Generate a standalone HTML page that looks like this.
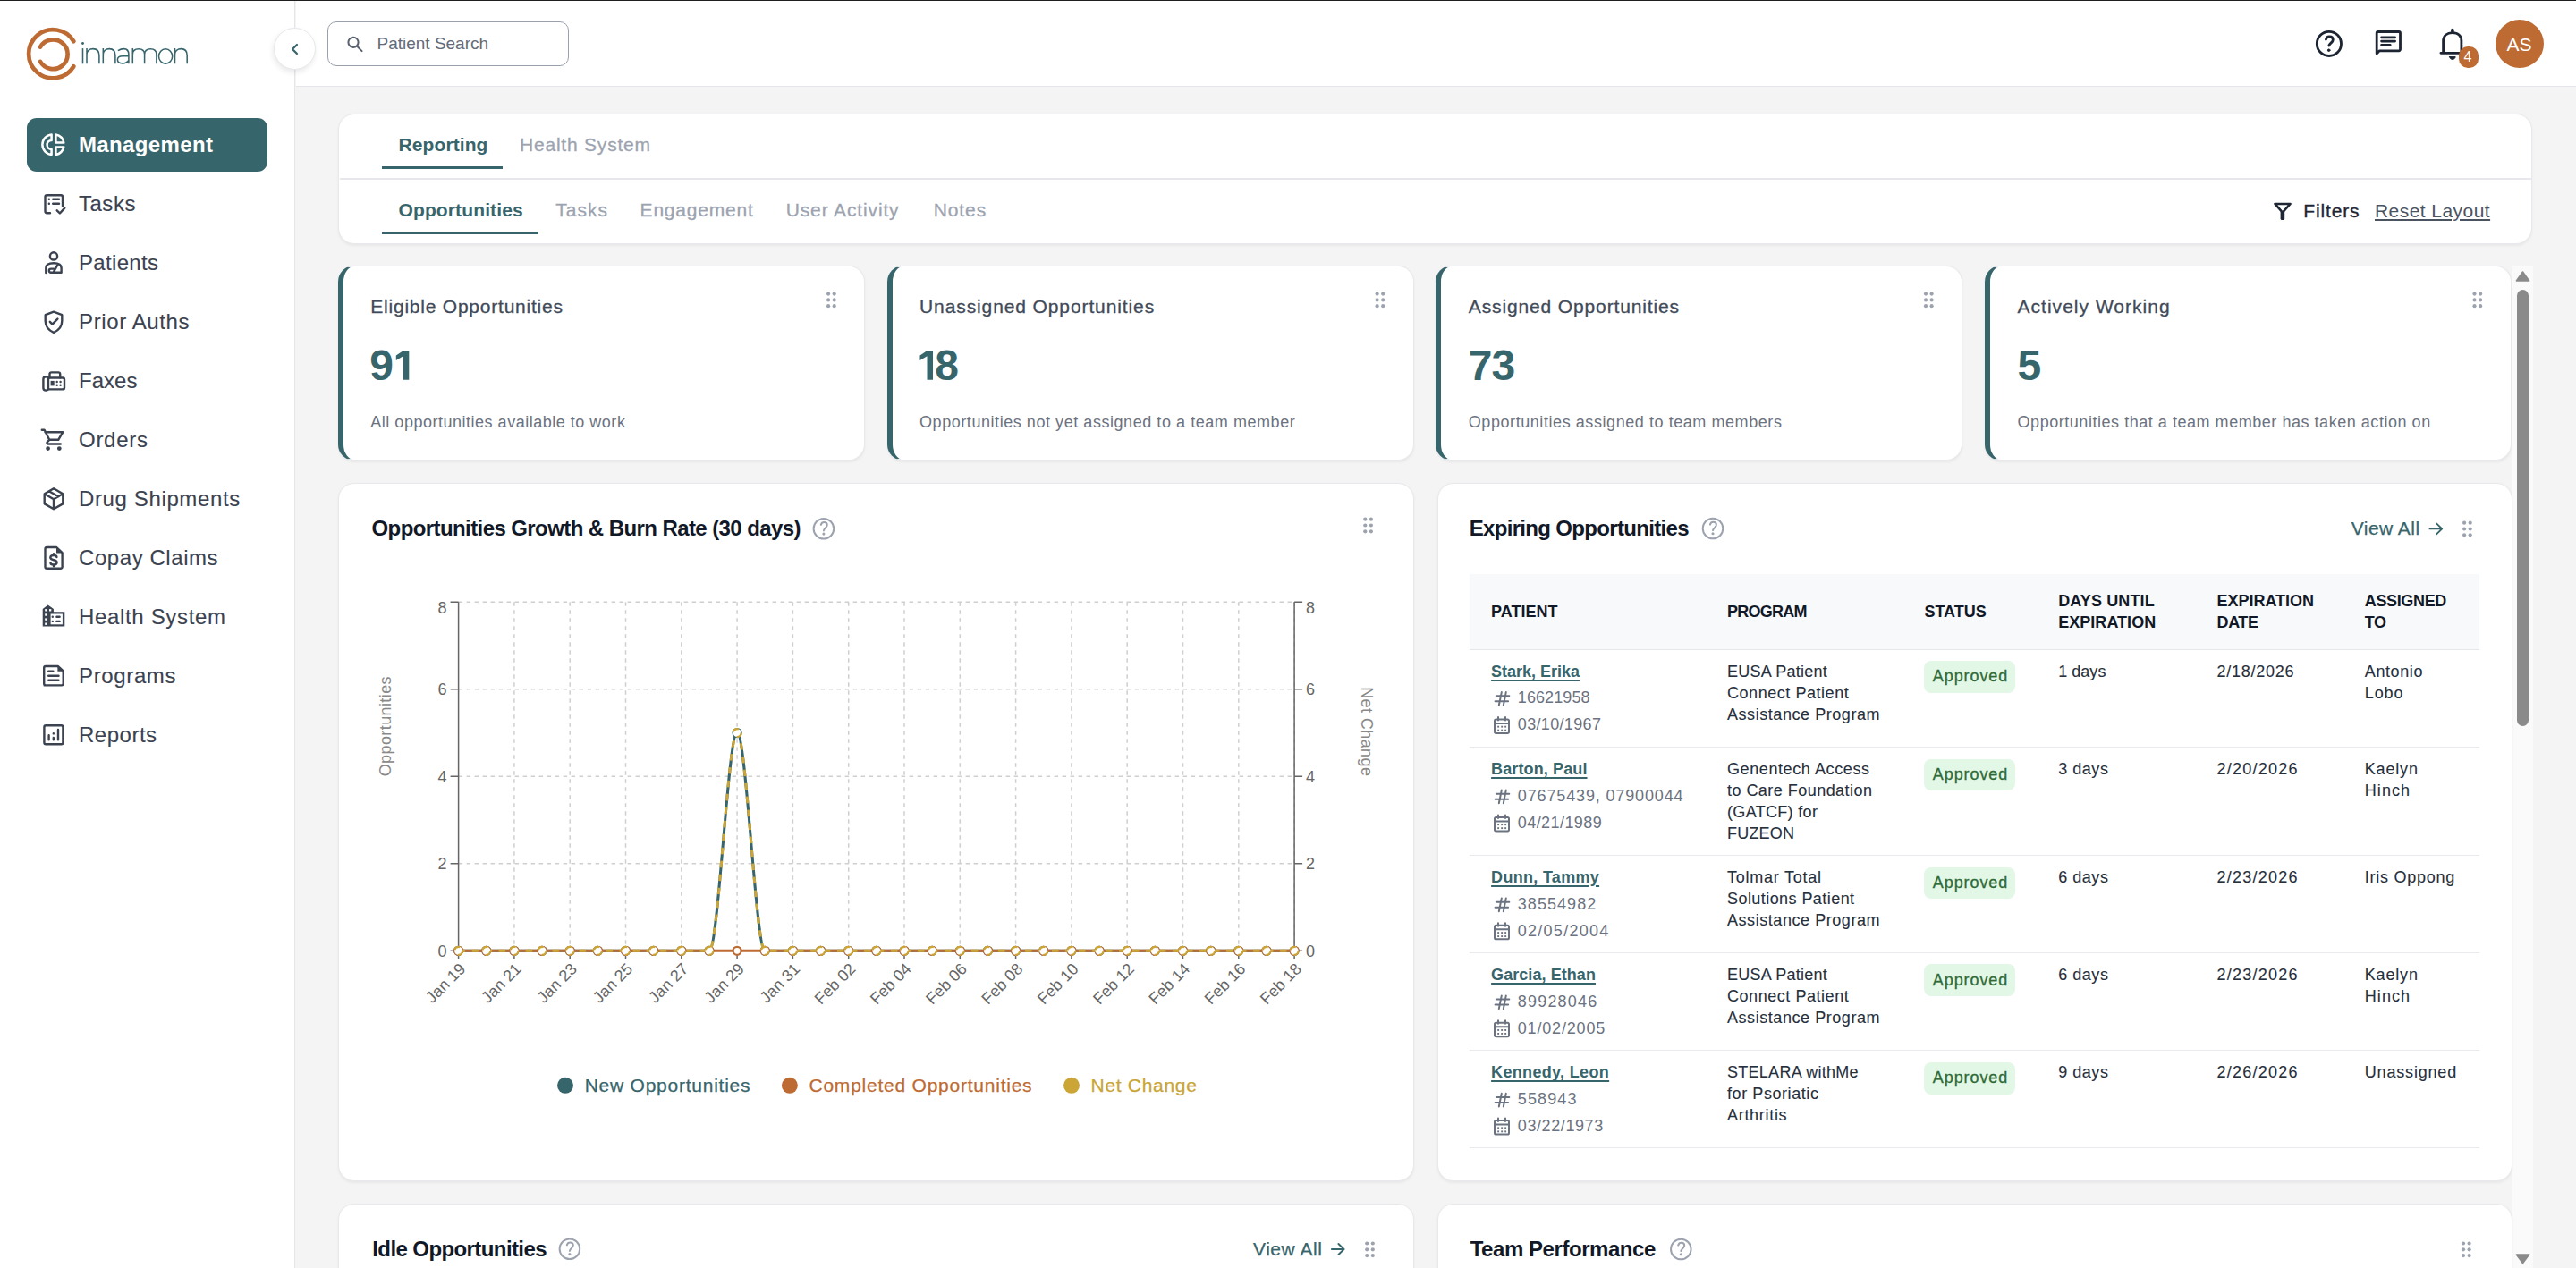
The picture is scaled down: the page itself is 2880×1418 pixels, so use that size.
<!DOCTYPE html>
<html><head><meta charset="utf-8"><style>
html,body{margin:0;padding:0;}
body{width:2880px;height:1418px;overflow:hidden;position:relative;background:#f4f4f4;font-family:"Liberation Sans",sans-serif;}
.t{position:absolute;white-space:nowrap;line-height:1;}
.nav{-webkit-text-stroke:0.12px #3b4250;}
.card{position:absolute;box-sizing:border-box;background:#fff;border:1.5px solid #e8e9ec;border-radius:18px;box-shadow:0 1.5px 3px rgba(0,0,0,0.05);}
.scard{border-left:6px solid #37656c;}
.med{-webkit-text-stroke:0.3px #9ca3af;}
.med2{-webkit-text-stroke:0.35px #1f2633;}
.med3{-webkit-text-stroke:0.3px #414a58;}
.mt{-webkit-text-stroke:0.25px #37656c;}
.mo{-webkit-text-stroke:0.25px #bd6b33;}
.mg{-webkit-text-stroke:0.25px #c9a535;}
.tb{-webkit-text-stroke:0.1px #262f3c;}
.ap{-webkit-text-stroke:0.3px #2e6a36;}

</style></head><body>
<div style="position:absolute;left:0;top:0;width:2880px;height:1px;background:#1f1f1f"></div>
<div style="position:absolute;left:0;top:1px;width:329px;height:1417px;background:#fff;border-right:1.5px solid #e4e6ea"></div>
<div style="position:absolute;left:330.5px;top:1px;width:2549.5px;height:94.5px;background:#fff;border-bottom:1.5px solid #e4e6ea"></div>
<svg style="position:absolute;left:0;top:0;width:260px;height:110px" viewBox="0 0 260 110">
<path d="M 82.4 46.3 A 27.1 27.1 0 1 0 82.4 74.3" stroke="#bd6b33" stroke-width="4.7" fill="none" stroke-linecap="round"/>
<path d="M 45 52.6 A 16.4 16.4 0 1 1 45 68.9" stroke="#bd6b33" stroke-width="4.7" fill="none" stroke-linecap="round"/>
<g stroke="#37656c" stroke-width="1.55" fill="none" stroke-linecap="butt">
<circle cx="92.5" cy="48.5" r="1.45" fill="#37656c" stroke="none"/>
<path d="M92.5 54.1 V71.3"/>
<path d="M97 71.3 V54.1 M97 61 C97 57 100 54.6 104 54.6 C108.5 54.6 110.9 57.5 110.9 62 V71.3"/>
<path d="M115.3 71.3 V54.1 M115.3 61 C115.3 57 118.3 54.6 122.3 54.6 C126.8 54.6 128.9 57.5 128.9 62 V71.3"/>
<path d="M131.9 56.6 C134 55.2 136 54.6 138.5 54.6 C142 54.6 143.9 57 143.9 61 V71.3 M143.9 62.8 H137 C133.5 62.8 131.4 64.5 131.4 66.8 C131.4 69.2 133.5 70.9 137 70.9 C140 70.9 142.5 69.5 143.9 67.5"/>
<path d="M148.3 71.3 V54.1 M148.3 61 C148.3 57 150.8 54.7 155 54.7 C159 54.7 161.6 57 161.6 61 V71.3 M161.6 61 C161.6 57 164.2 54.7 168.3 54.7 C172.5 54.7 174.9 57 174.9 61 V71.3"/>
<ellipse cx="185.1" cy="63" rx="7.6" ry="8.2"/>
<path d="M195.5 71.3 V54.1 M195.5 61 C195.5 57 198.5 54.6 202.5 54.6 C207 54.6 209.2 57.5 209.2 62 V71.3"/>
</g></svg>
<div style="position:absolute;left:305.5px;top:31px;width:47px;height:47px;border-radius:50%;background:#fff;border:1px solid #e6e8ec;box-shadow:-1px 3px 6px rgba(0,0,0,0.09);box-sizing:border-box"></div>
<svg style="position:absolute;left:320.5px;top:46.3px;width:18px;height:18px" viewBox="0 0 18 18" fill="none" stroke="#37656c" stroke-width="2.2" stroke-linecap="round" stroke-linejoin="round" ><path d="M11 4 L6 9 L11 14"/></svg>
<div style="position:absolute;left:366px;top:24px;width:270px;height:50px;border:1.5px solid #9aa1ad;border-radius:10px;box-sizing:border-box;background:#fff"></div>
<svg style="position:absolute;left:386px;top:39px;width:21px;height:21px" viewBox="0 0 21 21" fill="none" stroke="#5a616e" stroke-width="2" stroke-linecap="round" stroke-linejoin="round" ><circle cx="9" cy="8.3" r="5.6"/><path d="M13.2 12.7 L18.6 18.1"/></svg>
<div class="t " style="left:421.5px;top:39.42px;font-size:19px;color:#646b78;font-weight:400;letter-spacing:-0.005px;">Patient Search</div>
<svg style="position:absolute;left:2560px;top:20px;width:220px;height:60px" viewBox="2560 20 220 60" fill="none" stroke="#1d2532" stroke-width="2.8" stroke-linecap="round" stroke-linejoin="round">
<circle cx="2603.9" cy="48.9" r="13.6"/>
<path d="M2600.4 44.2 C2600.9 42 2602.5 41 2604.3 41 C2606.8 41 2608.3 42.6 2608.3 44.5 C2608.3 47 2605.6 47.8 2604.2 50.2 L2603.8 51"/>
<circle cx="2603.7" cy="56.2" r="1.3" fill="#1d2532" stroke-width="1"/>
<path d="M2657.2 58.5 V37 A1.5 1.5 0 0 1 2658.7 35.5 H2682 A1.5 1.5 0 0 1 2683.5 37 V55.3 A1.5 1.5 0 0 1 2682 56.8 H2660.3 L2657.2 59.9 Z"/>
<path d="M2662.6 41.9 H2677.6 M2662.6 46.1 H2677.6 M2662.6 50.4 H2672.2"/>
<path d="M2741.9 33.6 V35.8" stroke-width="3.6"/><path d="M2731.6 59 V46 C2731.6 40 2736 36.6 2741.9 36.6 C2747.8 36.6 2751.9 40 2751.9 46 V59 M2728.9 59.3 H2754"/>
<path d="M2738.6 63.6 H2745.2 C2745 65.2 2743.7 66.4 2741.9 66.4 C2740.1 66.4 2738.8 65.2 2738.6 63.6 Z" fill="#1d2532" stroke-width="1"/>
</svg>
<div style="position:absolute;left:2749.3px;top:52.2px;width:21.3px;height:23.7px;border-radius:10px;background:#bd6b33"></div>
<div class="t " style="left:2754.5px;top:56.46px;font-size:16px;color:#fff;font-weight:400;letter-spacing:0.000px;">4</div>
<div style="position:absolute;left:2790px;top:22px;width:54px;height:54px;border-radius:50%;background:#bd6b33"></div>
<div class="t " style="left:2802.5px;top:38.72px;font-size:21px;color:#fff;font-weight:400;letter-spacing:0.000px;">AS</div>
<div style="position:absolute;left:30px;top:132px;width:269px;height:60px;border-radius:11px;background:#37656c"></div>
<svg style="position:absolute;left:0;top:0;width:330px;height:900px" viewBox="0 0 330 900" fill="none" stroke-linecap="round" stroke-linejoin="round">
<g stroke="#fff" stroke-width="2.5">
<path d="M57.6 150.5 A11.3 11.3 0 0 0 57.6 173 V167 A5 5 0 0 1 57.6 157 Z"/>
<path d="M62.4 150.5 A11.3 11.3 0 0 1 71.3 159.6 H62.4 Z"/>
<path d="M62.4 173 A11.3 11.3 0 0 0 71.3 164.4 H62.4 Z"/>
</g>
<g stroke="#3b4250" stroke-width="2.4">
<path d="M56 238.2 H52.4 A1.9 1.9 0 0 1 50.5 236.3 V220.1 A1.9 1.9 0 0 1 52.4 218.2 H68.1 A1.9 1.9 0 0 1 70 220.1 V230.5"/>
<path d="M54.8 222.8 h0.1 M54.8 227.7 h0.1 M59.2 222.8 H66 M59.2 227.7 H66"/>
<path d="M63.7 235.3 L66.9 238.5 L72.3 232.6"/>
<circle cx="60" cy="286.4" r="4.1"/>
<path d="M51.3 305 V299.8 C51.3 295.8 54.5 294.3 60 294.3 C65.5 294.3 68.6 295.8 68.6 299.8 V304.8 H57 C55.3 304.8 54.8 303.8 54.8 302.6 C54.8 301.2 55.6 300.6 57 300.6 H60.5 M59.6 304.6 L64.3 296.3"/>
<path d="M60 348.6 L69.3 352.2 V359 C69.3 365 65.6 369.4 60 371.8 C54.4 369.4 50.7 365 50.7 359 V352.2 Z"/>
<path d="M55.8 359.8 L58.5 362.6 L64.4 356.6"/>
<rect x="48.4" y="421.3" width="5.6" height="15.3" rx="2.8"/>
<path d="M54 422.5 H70 A2 2 0 0 1 72 424.5 V433.4 A2 2 0 0 1 70 435.4 H54.2"/>
<path d="M55.5 422.2 V418.2 A1.8 1.8 0 0 1 57.3 416.4 H65.4 A1.8 1.8 0 0 1 67.2 418.2 V422.2"/>
<path d="M46.8 480.8 H49.6 L55.2 491.8 H65.2 L70.3 483.2 H50.5 M55.2 491.8 L52.8 494.3 C52 495.3 52.5 496.5 53.6 496.5 H67.8"/>
<circle cx="53.6" cy="501.6" r="1.2"/><circle cx="66.3" cy="501.6" r="1.2"/>
<path d="M60 546.2 L70.3 552.3 V563.4 L60 569.3 L49.7 563.4 V552.3 Z M49.7 552.3 L60 558.3 L70.3 552.3 M60 558.3 V569.3 M54.8 549.2 L65.2 555.3"/>
<path d="M63.2 612 H52.3 A1.8 1.8 0 0 0 50.5 613.8 V634 A1.8 1.8 0 0 0 52.3 635.8 H67.8 A1.8 1.8 0 0 0 69.6 634 V618.2 Z"/>
<path d="M63.4 623 C63.4 621.5 62 621 60 621 C57.5 621 56.3 622 56.3 623.6 C56.3 625.2 57.8 625.8 60 626.2 C62.2 626.6 63.6 627.2 63.6 628.9 C63.6 630.6 62.2 631.4 60 631.4 C58 631.4 56.5 630.8 56.5 629.4 M60 619.3 V621 M60 631.4 V633.2"/>
<path d="M49.7 766.4 H68.9 A1.8 1.8 0 0 0 70.7 764.6 V750.4 L64.7 745 H51 A1.8 1.8 0 0 0 49.2 746.8 V764.6 A1.8 1.8 0 0 0 51 766.4 Z"/>
<path d="M54.2 750.6 H59.4 M54.2 755.7 H65.5 M54.2 760.7 H65.5"/>
<rect x="49.4" y="811.3" width="21" height="21" rx="1.8"/>
<path d="M54.6 822.2 V827.2 M59.8 825 V827.2 M59.8 820.3 v0.1 M65 816 V827.2"/>
</g>
<g fill="#3b4250" stroke="none">
<path d="M63 611.6 L70 618.4 L63 618.4 Z"/>
<path d="M64.4 744.8 L71 750.8 L64.4 750.8 Z"/>
<rect x="56.6" y="425.9" width="4.1" height="5.5"/>
<circle cx="63.7" cy="427" r="1.2"/><circle cx="67.6" cy="427" r="1.2"/><circle cx="63.7" cy="430.8" r="1.2"/><circle cx="67.6" cy="430.8" r="1.2"/>
<path d="M53.6 676.5 L59.9 681 V684.2 H72.3 V700.6 H47.7 V681 Z"/>
</g>
<g fill="#fff" stroke="none">
<rect x="50.2" y="681.1" width="2.3" height="2.4"/><rect x="55" y="681.1" width="2.3" height="2.4"/>
<rect x="50.2" y="686.3" width="2.3" height="2.4"/><rect x="50.2" y="691.4" width="2.3" height="2.4"/><rect x="50.2" y="696.5" width="2.3" height="2.4"/>
<rect x="56.6" y="686.5" width="13.3" height="11.8"/>
</g>
<g fill="#3b4250" stroke="none">
<circle cx="58.8" cy="689.8" r="1.2"/><circle cx="58.8" cy="694.9" r="1.2"/>
<rect x="62.2" y="688.6" width="5.6" height="2.4" rx="1.2"/><rect x="62.2" y="693.7" width="5.6" height="2.4" rx="1.2"/>
</g>
</svg>
<div class="t navb" style="left:88px;top:149.88px;font-size:24px;color:#fff;font-weight:700;letter-spacing:0.366px;">Management</div>
<div class="t nav" style="left:88px;top:215.98px;font-size:24px;color:#3b4250;font-weight:400;letter-spacing:0.513px;">Tasks</div>
<div class="t nav" style="left:88px;top:281.93px;font-size:24px;color:#3b4250;font-weight:400;letter-spacing:0.326px;">Patients</div>
<div class="t nav" style="left:88px;top:347.88px;font-size:24px;color:#3b4250;font-weight:400;letter-spacing:0.619px;">Prior Auths</div>
<div class="t nav" style="left:88px;top:413.83px;font-size:24px;color:#3b4250;font-weight:400;letter-spacing:0.011px;">Faxes</div>
<div class="t nav" style="left:88px;top:479.78px;font-size:24px;color:#3b4250;font-weight:400;letter-spacing:0.710px;">Orders</div>
<div class="t nav" style="left:88px;top:545.73px;font-size:24px;color:#3b4250;font-weight:400;letter-spacing:0.625px;">Drug Shipments</div>
<div class="t nav" style="left:88px;top:611.68px;font-size:24px;color:#3b4250;font-weight:400;letter-spacing:0.566px;">Copay Claims</div>
<div class="t nav" style="left:88px;top:677.63px;font-size:24px;color:#3b4250;font-weight:400;letter-spacing:0.661px;">Health System</div>
<div class="t nav" style="left:88px;top:743.58px;font-size:24px;color:#3b4250;font-weight:400;letter-spacing:0.639px;">Programs</div>
<div class="t nav" style="left:88px;top:809.53px;font-size:24px;color:#3b4250;font-weight:400;letter-spacing:0.511px;">Reports</div>
<div class="card" style="left:377.8px;top:127px;width:2453.7px;height:145.5px;"></div>
<div style="position:absolute;left:380px;top:199px;width:2450px;height:1.5px;background:#e7e8eb"></div>
<div class="t " style="left:445.5px;top:150.82px;font-size:21px;color:#37656c;font-weight:700;letter-spacing:0.097px;">Reporting</div>
<div class="t med" style="left:581px;top:150.82px;font-size:21px;color:#9ca3af;font-weight:400;letter-spacing:0.787px;">Health System</div>
<div style="position:absolute;left:427px;top:186px;width:135px;height:3px;background:#37656c"></div>
<div class="t " style="left:445.5px;top:223.62px;font-size:21px;color:#37656c;font-weight:700;letter-spacing:0.127px;">Opportunities</div>
<div class="t med" style="left:621.2px;top:223.62px;font-size:21px;color:#9ca3af;font-weight:400;letter-spacing:1.005px;">Tasks</div>
<div class="t med" style="left:715.6px;top:223.62px;font-size:21px;color:#9ca3af;font-weight:400;letter-spacing:0.794px;">Engagement</div>
<div class="t med" style="left:878.7px;top:223.62px;font-size:21px;color:#9ca3af;font-weight:400;letter-spacing:0.868px;">User Activity</div>
<div class="t med" style="left:1043.7px;top:223.62px;font-size:21px;color:#9ca3af;font-weight:400;letter-spacing:0.910px;">Notes</div>
<div style="position:absolute;left:427px;top:259px;width:175px;height:3px;background:#37656c"></div>
<svg style="position:absolute;left:2530px;top:215px;width:40px;height:40px" viewBox="2530 215 40 40"><path d="M2543.4 227.9 H2560.6 L2551.9 237.6 Z" fill="none" stroke="#1f2633" stroke-width="2.5" stroke-linejoin="round"/><rect x="2549.6" y="236" width="4.6" height="10" rx="1.6" fill="#1f2633"/></svg>
<div class="t med2" style="left:2575.3px;top:225.12px;font-size:21px;color:#1f2633;font-weight:400;letter-spacing:0.839px;">Filters</div>
<div class="t " style="left:2655px;top:225.12px;font-size:21px;color:#4b5361;font-weight:400;letter-spacing:0.445px;text-decoration:underline;text-underline-offset:2px;text-decoration-thickness:1.6px;">Reset Layout</div>
<div class="card scard" style="left:377.9px;top:297px;width:589px;height:217.5px;"></div>
<div class="t med3" style="left:414.29999999999995px;top:332.42px;font-size:21px;color:#414a58;font-weight:400;letter-spacing:0.774px;">Eligible Opportunities</div>
<div class="t " style="left:413.3px;top:385.27px;font-size:48px;color:#37656c;font-weight:700;letter-spacing:0.000px;">9</div>
<div class="t " style="left:414.29999999999995px;top:462.96px;font-size:18px;color:#6b7280;font-weight:400;letter-spacing:0.513px;">All opportunities available to work</div>
<div class="card scard" style="left:991.6px;top:297px;width:589px;height:217.5px;"></div>
<div class="t med3" style="left:1028.05px;top:332.42px;font-size:21px;color:#414a58;font-weight:400;letter-spacing:0.889px;">Unassigned Opportunities</div>
<div class="t " style="left:1045.2px;top:385.27px;font-size:48px;color:#37656c;font-weight:700;letter-spacing:0.000px;">8</div>
<div class="t " style="left:1028.05px;top:462.96px;font-size:18px;color:#6b7280;font-weight:400;letter-spacing:0.554px;">Opportunities not yet assigned to a team member</div>
<div class="card scard" style="left:1605.4px;top:297px;width:589px;height:217.5px;"></div>
<div class="t med3" style="left:1641.8000000000002px;top:332.42px;font-size:21px;color:#414a58;font-weight:400;letter-spacing:0.865px;">Assigned Opportunities</div>
<div class="t " style="left:1641.8000000000002px;top:385.27px;font-size:48px;color:#37656c;font-weight:700;letter-spacing:-0.895px;">73</div>
<div class="t " style="left:1641.8000000000002px;top:462.96px;font-size:18px;color:#6b7280;font-weight:400;letter-spacing:0.566px;">Opportunities assigned to team members</div>
<div class="card scard" style="left:2219.2px;top:297px;width:589px;height:217.5px;"></div>
<div class="t med3" style="left:2255.55px;top:332.42px;font-size:21px;color:#414a58;font-weight:400;letter-spacing:1.017px;">Actively Working</div>
<div class="t " style="left:2255.55px;top:385.27px;font-size:48px;color:#37656c;font-weight:700;letter-spacing:0.000px;">5</div>
<div class="t " style="left:2255.55px;top:462.96px;font-size:18px;color:#6b7280;font-weight:400;letter-spacing:0.537px;">Opportunities that a team member has taken action on</div>
<svg style="position:absolute;left:0;top:0;width:2880px;height:1418px;pointer-events:none"><polygon points="442.8,397.4 451.0,391.9 457.3,391.9 457.3,424.8 450.8,424.8 450.8,398.3 442.8,403.0" fill="#37656c"/><circle cx="926.1" cy="328.6" r="2.1" fill="#9ca3af"/><circle cx="932.7" cy="328.6" r="2.1" fill="#9ca3af"/><circle cx="926.1" cy="335.4" r="2.1" fill="#9ca3af"/><circle cx="932.7" cy="335.4" r="2.1" fill="#9ca3af"/><circle cx="926.1" cy="342.2" r="2.1" fill="#9ca3af"/><circle cx="932.7" cy="342.2" r="2.1" fill="#9ca3af"/><polygon points="1028.5,397.4 1036.7,391.9 1043.0,391.9 1043.0,424.8 1036.5,424.8 1036.5,398.3 1028.5,403.0" fill="#37656c"/><circle cx="1539.6" cy="328.6" r="2.1" fill="#9ca3af"/><circle cx="1546.2" cy="328.6" r="2.1" fill="#9ca3af"/><circle cx="1539.6" cy="335.4" r="2.1" fill="#9ca3af"/><circle cx="1546.2" cy="335.4" r="2.1" fill="#9ca3af"/><circle cx="1539.6" cy="342.2" r="2.1" fill="#9ca3af"/><circle cx="1546.2" cy="342.2" r="2.1" fill="#9ca3af"/><circle cx="2153.0" cy="328.6" r="2.1" fill="#9ca3af"/><circle cx="2159.6" cy="328.6" r="2.1" fill="#9ca3af"/><circle cx="2153.0" cy="335.4" r="2.1" fill="#9ca3af"/><circle cx="2159.6" cy="335.4" r="2.1" fill="#9ca3af"/><circle cx="2153.0" cy="342.2" r="2.1" fill="#9ca3af"/><circle cx="2159.6" cy="342.2" r="2.1" fill="#9ca3af"/><circle cx="2766.5" cy="328.6" r="2.1" fill="#9ca3af"/><circle cx="2773.1" cy="328.6" r="2.1" fill="#9ca3af"/><circle cx="2766.5" cy="335.4" r="2.1" fill="#9ca3af"/><circle cx="2773.1" cy="335.4" r="2.1" fill="#9ca3af"/><circle cx="2766.5" cy="342.2" r="2.1" fill="#9ca3af"/><circle cx="2773.1" cy="342.2" r="2.1" fill="#9ca3af"/></svg>
<div style="position:absolute;left:2809px;top:297px;width:23px;height:1121px;background:#fafafa"></div>
<div style="position:absolute;left:2814px;top:324px;width:13px;height:488px;border-radius:6.5px;background:#8a8a8a"></div>
<svg style="position:absolute;left:2809px;top:297px;width:23px;height:1121px" viewBox="0 0 23 1121"><path d="M11.5 7 L18.6 17 L4.4 17 Z" fill="#8a8a8a" stroke="#8a8a8a" stroke-width="1.6" stroke-linejoin="round"/><path d="M11.5 1115.5 L18.6 1106 L4.4 1106 Z" fill="#8a8a8a" stroke="#8a8a8a" stroke-width="1.6" stroke-linejoin="round"/></svg>
<div class="card" style="left:377.9px;top:540px;width:1203.6px;height:780.5px;"></div>
<div class="t " style="left:415.5px;top:578.78px;font-size:24px;color:#111827;font-weight:700;letter-spacing:-0.586px;">Opportunities Growth &amp; Burn Rate (30 days)</div>
<svg style="position:absolute;left:0;top:0;width:2880px;height:1418px;pointer-events:none"><circle cx="920.9" cy="591.3" r="11.3" fill="none" stroke="#9ca3af" stroke-width="2"/><path d="M917.8 586.9 C918.5 584.6999999999999 920.3 584.0999999999999 921.3 584.0999999999999 C923.5 584.0999999999999 924.8 585.5999999999999 924.8 587.3 C924.8 589.8 921.1 591.0999999999999 920.9 593.4" fill="none" stroke="#9ca3af" stroke-width="2" stroke-linecap="round"/><circle cx="920.9" cy="597.0999999999999" r="1.55" fill="#9ca3af"/><circle cx="1526.3" cy="580.7" r="2.1" fill="#9ca3af"/><circle cx="1532.9" cy="580.7" r="2.1" fill="#9ca3af"/><circle cx="1526.3" cy="587.5" r="2.1" fill="#9ca3af"/><circle cx="1532.9" cy="587.5" r="2.1" fill="#9ca3af"/><circle cx="1526.3" cy="594.3" r="2.1" fill="#9ca3af"/><circle cx="1532.9" cy="594.3" r="2.1" fill="#9ca3af"/><path d="M512.6 965.8 H1447.1 M512.6 868.3 H1447.1 M512.6 770.8 H1447.1 M512.6 673.3 H1447.1 M574.9 673.3 V1063.3 M637.2 673.3 V1063.3 M699.5 673.3 V1063.3 M761.8 673.3 V1063.3 M824.1 673.3 V1063.3 M886.4 673.3 V1063.3 M948.7 673.3 V1063.3 M1011.0 673.3 V1063.3 M1073.3 673.3 V1063.3 M1135.6 673.3 V1063.3 M1197.9 673.3 V1063.3 M1260.2 673.3 V1063.3 M1322.5 673.3 V1063.3 M1384.8 673.3 V1063.3 M1447.1 673.3 V1063.3" stroke="#cfcfcf" stroke-width="1.5" stroke-dasharray="4.5 4.5" fill="none"/><path d="M512.6 673.3 V1063.3 M1447.1 673.3 V1063.3 M503.6 1063.3 H512.6 M1447.1 1063.3 H1456.1 M503.6 965.8 H512.6 M1447.1 965.8 H1456.1 M503.6 868.3 H512.6 M1447.1 868.3 H1456.1 M503.6 770.8 H512.6 M1447.1 770.8 H1456.1 M503.6 673.3 H512.6 M1447.1 673.3 H1456.1 M512.6 1063.3 V1072.3 M574.9 1063.3 V1072.3 M637.2 1063.3 V1072.3 M699.5 1063.3 V1072.3 M761.8 1063.3 V1072.3 M824.1 1063.3 V1072.3 M886.4 1063.3 V1072.3 M948.7 1063.3 V1072.3 M1011.0 1063.3 V1072.3 M1073.3 1063.3 V1072.3 M1135.6 1063.3 V1072.3 M1197.9 1063.3 V1072.3 M1260.2 1063.3 V1072.3 M1322.5 1063.3 V1072.3 M1384.8 1063.3 V1072.3 M1447.1 1063.3 V1072.3" stroke="#666" stroke-width="1.5" fill="none"/><g font-family="Liberation Sans" font-size="18" fill="#666" letter-spacing="0"><text x="499.6" y="1069.8" text-anchor="end">0</text><text x="1460.1" y="1069.8">0</text><text x="499.6" y="972.3" text-anchor="end">2</text><text x="1460.1" y="972.3">2</text><text x="499.6" y="874.8" text-anchor="end">4</text><text x="1460.1" y="874.8">4</text><text x="499.6" y="777.3" text-anchor="end">6</text><text x="1460.1" y="777.3">6</text><text x="499.6" y="686.3" text-anchor="end">8</text><text x="1460.1" y="686.3">8</text><text transform="translate(521.5,1084.6) rotate(-45)" text-anchor="end">Jan 19</text><text transform="translate(583.8,1084.6) rotate(-45)" text-anchor="end">Jan 21</text><text transform="translate(646.1,1084.6) rotate(-45)" text-anchor="end">Jan 23</text><text transform="translate(708.4,1084.6) rotate(-45)" text-anchor="end">Jan 25</text><text transform="translate(770.7,1084.6) rotate(-45)" text-anchor="end">Jan 27</text><text transform="translate(833.0,1084.6) rotate(-45)" text-anchor="end">Jan 29</text><text transform="translate(895.3,1084.6) rotate(-45)" text-anchor="end">Jan 31</text><text transform="translate(957.6,1084.6) rotate(-45)" text-anchor="end">Feb 02</text><text transform="translate(1019.9,1084.6) rotate(-45)" text-anchor="end">Feb 04</text><text transform="translate(1082.2,1084.6) rotate(-45)" text-anchor="end">Feb 06</text><text transform="translate(1144.5,1084.6) rotate(-45)" text-anchor="end">Feb 08</text><text transform="translate(1206.8,1084.6) rotate(-45)" text-anchor="end">Feb 10</text><text transform="translate(1269.1,1084.6) rotate(-45)" text-anchor="end">Feb 12</text><text transform="translate(1331.4,1084.6) rotate(-45)" text-anchor="end">Feb 14</text><text transform="translate(1393.7,1084.6) rotate(-45)" text-anchor="end">Feb 16</text><text transform="translate(1456.0,1084.6) rotate(-45)" text-anchor="end">Feb 18</text></g><text transform="translate(436.6,868.3) rotate(-90)" font-family="Liberation Sans" font-size="18" fill="#888" letter-spacing="0.4">Opportunities</text><text transform="translate(1522,868.3) rotate(90)" text-anchor="end" font-family="Liberation Sans" font-size="18" fill="#888" letter-spacing="0.4">Net Change</text><path d="M512.60 1063.30 L543.75 1063.30 L574.90 1063.30 L606.05 1063.30 L637.20 1063.30 L668.35 1063.30 L699.50 1063.30 L730.65 1063.30 L761.80 1063.30 L792.95 1063.30 C803.33 1063.30 813.72 819.55 824.10 819.55 C834.48 819.55 844.87 1063.30 855.25 1063.30 L886.40 1063.30 L917.55 1063.30 L948.70 1063.30 L979.85 1063.30 L1011.00 1063.30 L1042.15 1063.30 L1073.30 1063.30 L1104.45 1063.30 L1135.60 1063.30 L1166.75 1063.30 L1197.90 1063.30 L1229.05 1063.30 L1260.20 1063.30 L1291.35 1063.30 L1322.50 1063.30 L1353.65 1063.30 L1384.80 1063.30 L1415.95 1063.30 L1447.10 1063.30" stroke="#37656c" stroke-width="3" fill="none"/><circle cx="512.60" cy="1063.30" r="4.5" fill="#fff" stroke="#37656c" stroke-width="2.2" /><circle cx="543.75" cy="1063.30" r="4.5" fill="#fff" stroke="#37656c" stroke-width="2.2" /><circle cx="574.90" cy="1063.30" r="4.5" fill="#fff" stroke="#37656c" stroke-width="2.2" /><circle cx="606.05" cy="1063.30" r="4.5" fill="#fff" stroke="#37656c" stroke-width="2.2" /><circle cx="637.20" cy="1063.30" r="4.5" fill="#fff" stroke="#37656c" stroke-width="2.2" /><circle cx="668.35" cy="1063.30" r="4.5" fill="#fff" stroke="#37656c" stroke-width="2.2" /><circle cx="699.50" cy="1063.30" r="4.5" fill="#fff" stroke="#37656c" stroke-width="2.2" /><circle cx="730.65" cy="1063.30" r="4.5" fill="#fff" stroke="#37656c" stroke-width="2.2" /><circle cx="761.80" cy="1063.30" r="4.5" fill="#fff" stroke="#37656c" stroke-width="2.2" /><circle cx="792.95" cy="1063.30" r="4.5" fill="#fff" stroke="#37656c" stroke-width="2.2" /><circle cx="824.10" cy="819.55" r="4.5" fill="#fff" stroke="#37656c" stroke-width="2.2" /><circle cx="855.25" cy="1063.30" r="4.5" fill="#fff" stroke="#37656c" stroke-width="2.2" /><circle cx="886.40" cy="1063.30" r="4.5" fill="#fff" stroke="#37656c" stroke-width="2.2" /><circle cx="917.55" cy="1063.30" r="4.5" fill="#fff" stroke="#37656c" stroke-width="2.2" /><circle cx="948.70" cy="1063.30" r="4.5" fill="#fff" stroke="#37656c" stroke-width="2.2" /><circle cx="979.85" cy="1063.30" r="4.5" fill="#fff" stroke="#37656c" stroke-width="2.2" /><circle cx="1011.00" cy="1063.30" r="4.5" fill="#fff" stroke="#37656c" stroke-width="2.2" /><circle cx="1042.15" cy="1063.30" r="4.5" fill="#fff" stroke="#37656c" stroke-width="2.2" /><circle cx="1073.30" cy="1063.30" r="4.5" fill="#fff" stroke="#37656c" stroke-width="2.2" /><circle cx="1104.45" cy="1063.30" r="4.5" fill="#fff" stroke="#37656c" stroke-width="2.2" /><circle cx="1135.60" cy="1063.30" r="4.5" fill="#fff" stroke="#37656c" stroke-width="2.2" /><circle cx="1166.75" cy="1063.30" r="4.5" fill="#fff" stroke="#37656c" stroke-width="2.2" /><circle cx="1197.90" cy="1063.30" r="4.5" fill="#fff" stroke="#37656c" stroke-width="2.2" /><circle cx="1229.05" cy="1063.30" r="4.5" fill="#fff" stroke="#37656c" stroke-width="2.2" /><circle cx="1260.20" cy="1063.30" r="4.5" fill="#fff" stroke="#37656c" stroke-width="2.2" /><circle cx="1291.35" cy="1063.30" r="4.5" fill="#fff" stroke="#37656c" stroke-width="2.2" /><circle cx="1322.50" cy="1063.30" r="4.5" fill="#fff" stroke="#37656c" stroke-width="2.2" /><circle cx="1353.65" cy="1063.30" r="4.5" fill="#fff" stroke="#37656c" stroke-width="2.2" /><circle cx="1384.80" cy="1063.30" r="4.5" fill="#fff" stroke="#37656c" stroke-width="2.2" /><circle cx="1415.95" cy="1063.30" r="4.5" fill="#fff" stroke="#37656c" stroke-width="2.2" /><circle cx="1447.10" cy="1063.30" r="4.5" fill="#fff" stroke="#37656c" stroke-width="2.2" /><path d="M512.60 1063.30 L543.75 1063.30 L574.90 1063.30 L606.05 1063.30 L637.20 1063.30 L668.35 1063.30 L699.50 1063.30 L730.65 1063.30 L761.80 1063.30 L792.95 1063.30 L824.10 1063.30 L855.25 1063.30 L886.40 1063.30 L917.55 1063.30 L948.70 1063.30 L979.85 1063.30 L1011.00 1063.30 L1042.15 1063.30 L1073.30 1063.30 L1104.45 1063.30 L1135.60 1063.30 L1166.75 1063.30 L1197.90 1063.30 L1229.05 1063.30 L1260.20 1063.30 L1291.35 1063.30 L1322.50 1063.30 L1353.65 1063.30 L1384.80 1063.30 L1415.95 1063.30 L1447.10 1063.30" stroke="#bd6b33" stroke-width="3" fill="none"/><circle cx="512.60" cy="1063.30" r="4.5" fill="#fff" stroke="#bd6b33" stroke-width="2.2" /><circle cx="543.75" cy="1063.30" r="4.5" fill="#fff" stroke="#bd6b33" stroke-width="2.2" /><circle cx="574.90" cy="1063.30" r="4.5" fill="#fff" stroke="#bd6b33" stroke-width="2.2" /><circle cx="606.05" cy="1063.30" r="4.5" fill="#fff" stroke="#bd6b33" stroke-width="2.2" /><circle cx="637.20" cy="1063.30" r="4.5" fill="#fff" stroke="#bd6b33" stroke-width="2.2" /><circle cx="668.35" cy="1063.30" r="4.5" fill="#fff" stroke="#bd6b33" stroke-width="2.2" /><circle cx="699.50" cy="1063.30" r="4.5" fill="#fff" stroke="#bd6b33" stroke-width="2.2" /><circle cx="730.65" cy="1063.30" r="4.5" fill="#fff" stroke="#bd6b33" stroke-width="2.2" /><circle cx="761.80" cy="1063.30" r="4.5" fill="#fff" stroke="#bd6b33" stroke-width="2.2" /><circle cx="792.95" cy="1063.30" r="4.5" fill="#fff" stroke="#bd6b33" stroke-width="2.2" /><circle cx="824.10" cy="1063.30" r="4.5" fill="#fff" stroke="#bd6b33" stroke-width="2.2" /><circle cx="855.25" cy="1063.30" r="4.5" fill="#fff" stroke="#bd6b33" stroke-width="2.2" /><circle cx="886.40" cy="1063.30" r="4.5" fill="#fff" stroke="#bd6b33" stroke-width="2.2" /><circle cx="917.55" cy="1063.30" r="4.5" fill="#fff" stroke="#bd6b33" stroke-width="2.2" /><circle cx="948.70" cy="1063.30" r="4.5" fill="#fff" stroke="#bd6b33" stroke-width="2.2" /><circle cx="979.85" cy="1063.30" r="4.5" fill="#fff" stroke="#bd6b33" stroke-width="2.2" /><circle cx="1011.00" cy="1063.30" r="4.5" fill="#fff" stroke="#bd6b33" stroke-width="2.2" /><circle cx="1042.15" cy="1063.30" r="4.5" fill="#fff" stroke="#bd6b33" stroke-width="2.2" /><circle cx="1073.30" cy="1063.30" r="4.5" fill="#fff" stroke="#bd6b33" stroke-width="2.2" /><circle cx="1104.45" cy="1063.30" r="4.5" fill="#fff" stroke="#bd6b33" stroke-width="2.2" /><circle cx="1135.60" cy="1063.30" r="4.5" fill="#fff" stroke="#bd6b33" stroke-width="2.2" /><circle cx="1166.75" cy="1063.30" r="4.5" fill="#fff" stroke="#bd6b33" stroke-width="2.2" /><circle cx="1197.90" cy="1063.30" r="4.5" fill="#fff" stroke="#bd6b33" stroke-width="2.2" /><circle cx="1229.05" cy="1063.30" r="4.5" fill="#fff" stroke="#bd6b33" stroke-width="2.2" /><circle cx="1260.20" cy="1063.30" r="4.5" fill="#fff" stroke="#bd6b33" stroke-width="2.2" /><circle cx="1291.35" cy="1063.30" r="4.5" fill="#fff" stroke="#bd6b33" stroke-width="2.2" /><circle cx="1322.50" cy="1063.30" r="4.5" fill="#fff" stroke="#bd6b33" stroke-width="2.2" /><circle cx="1353.65" cy="1063.30" r="4.5" fill="#fff" stroke="#bd6b33" stroke-width="2.2" /><circle cx="1384.80" cy="1063.30" r="4.5" fill="#fff" stroke="#bd6b33" stroke-width="2.2" /><circle cx="1415.95" cy="1063.30" r="4.5" fill="#fff" stroke="#bd6b33" stroke-width="2.2" /><circle cx="1447.10" cy="1063.30" r="4.5" fill="#fff" stroke="#bd6b33" stroke-width="2.2" /><path d="M512.60 1063.30 L543.75 1063.30 L574.90 1063.30 L606.05 1063.30 L637.20 1063.30 L668.35 1063.30 L699.50 1063.30 L730.65 1063.30 L761.80 1063.30 L792.95 1063.30 C803.33 1063.30 813.72 819.55 824.10 819.55 C834.48 819.55 844.87 1063.30 855.25 1063.30 L886.40 1063.30 L917.55 1063.30 L948.70 1063.30 L979.85 1063.30 L1011.00 1063.30 L1042.15 1063.30 L1073.30 1063.30 L1104.45 1063.30 L1135.60 1063.30 L1166.75 1063.30 L1197.90 1063.30 L1229.05 1063.30 L1260.20 1063.30 L1291.35 1063.30 L1322.50 1063.30 L1353.65 1063.30 L1384.80 1063.30 L1415.95 1063.30 L1447.10 1063.30" stroke="#cba636" stroke-width="3" fill="none" stroke-dasharray="7.5 7.5"/><circle cx="512.60" cy="1063.30" r="4.5" fill="#fff" stroke="#cba636" stroke-width="2.2" stroke-dasharray="7.5 7.5"/><circle cx="543.75" cy="1063.30" r="4.5" fill="#fff" stroke="#cba636" stroke-width="2.2" stroke-dasharray="7.5 7.5"/><circle cx="574.90" cy="1063.30" r="4.5" fill="#fff" stroke="#cba636" stroke-width="2.2" stroke-dasharray="7.5 7.5"/><circle cx="606.05" cy="1063.30" r="4.5" fill="#fff" stroke="#cba636" stroke-width="2.2" stroke-dasharray="7.5 7.5"/><circle cx="637.20" cy="1063.30" r="4.5" fill="#fff" stroke="#cba636" stroke-width="2.2" stroke-dasharray="7.5 7.5"/><circle cx="668.35" cy="1063.30" r="4.5" fill="#fff" stroke="#cba636" stroke-width="2.2" stroke-dasharray="7.5 7.5"/><circle cx="699.50" cy="1063.30" r="4.5" fill="#fff" stroke="#cba636" stroke-width="2.2" stroke-dasharray="7.5 7.5"/><circle cx="730.65" cy="1063.30" r="4.5" fill="#fff" stroke="#cba636" stroke-width="2.2" stroke-dasharray="7.5 7.5"/><circle cx="761.80" cy="1063.30" r="4.5" fill="#fff" stroke="#cba636" stroke-width="2.2" stroke-dasharray="7.5 7.5"/><circle cx="792.95" cy="1063.30" r="4.5" fill="#fff" stroke="#cba636" stroke-width="2.2" stroke-dasharray="7.5 7.5"/><circle cx="824.10" cy="819.55" r="4.5" fill="#fff" stroke="#cba636" stroke-width="2.2" stroke-dasharray="7.5 7.5"/><circle cx="855.25" cy="1063.30" r="4.5" fill="#fff" stroke="#cba636" stroke-width="2.2" stroke-dasharray="7.5 7.5"/><circle cx="886.40" cy="1063.30" r="4.5" fill="#fff" stroke="#cba636" stroke-width="2.2" stroke-dasharray="7.5 7.5"/><circle cx="917.55" cy="1063.30" r="4.5" fill="#fff" stroke="#cba636" stroke-width="2.2" stroke-dasharray="7.5 7.5"/><circle cx="948.70" cy="1063.30" r="4.5" fill="#fff" stroke="#cba636" stroke-width="2.2" stroke-dasharray="7.5 7.5"/><circle cx="979.85" cy="1063.30" r="4.5" fill="#fff" stroke="#cba636" stroke-width="2.2" stroke-dasharray="7.5 7.5"/><circle cx="1011.00" cy="1063.30" r="4.5" fill="#fff" stroke="#cba636" stroke-width="2.2" stroke-dasharray="7.5 7.5"/><circle cx="1042.15" cy="1063.30" r="4.5" fill="#fff" stroke="#cba636" stroke-width="2.2" stroke-dasharray="7.5 7.5"/><circle cx="1073.30" cy="1063.30" r="4.5" fill="#fff" stroke="#cba636" stroke-width="2.2" stroke-dasharray="7.5 7.5"/><circle cx="1104.45" cy="1063.30" r="4.5" fill="#fff" stroke="#cba636" stroke-width="2.2" stroke-dasharray="7.5 7.5"/><circle cx="1135.60" cy="1063.30" r="4.5" fill="#fff" stroke="#cba636" stroke-width="2.2" stroke-dasharray="7.5 7.5"/><circle cx="1166.75" cy="1063.30" r="4.5" fill="#fff" stroke="#cba636" stroke-width="2.2" stroke-dasharray="7.5 7.5"/><circle cx="1197.90" cy="1063.30" r="4.5" fill="#fff" stroke="#cba636" stroke-width="2.2" stroke-dasharray="7.5 7.5"/><circle cx="1229.05" cy="1063.30" r="4.5" fill="#fff" stroke="#cba636" stroke-width="2.2" stroke-dasharray="7.5 7.5"/><circle cx="1260.20" cy="1063.30" r="4.5" fill="#fff" stroke="#cba636" stroke-width="2.2" stroke-dasharray="7.5 7.5"/><circle cx="1291.35" cy="1063.30" r="4.5" fill="#fff" stroke="#cba636" stroke-width="2.2" stroke-dasharray="7.5 7.5"/><circle cx="1322.50" cy="1063.30" r="4.5" fill="#fff" stroke="#cba636" stroke-width="2.2" stroke-dasharray="7.5 7.5"/><circle cx="1353.65" cy="1063.30" r="4.5" fill="#fff" stroke="#cba636" stroke-width="2.2" stroke-dasharray="7.5 7.5"/><circle cx="1384.80" cy="1063.30" r="4.5" fill="#fff" stroke="#cba636" stroke-width="2.2" stroke-dasharray="7.5 7.5"/><circle cx="1415.95" cy="1063.30" r="4.5" fill="#fff" stroke="#cba636" stroke-width="2.2" stroke-dasharray="7.5 7.5"/><circle cx="1447.10" cy="1063.30" r="4.5" fill="#fff" stroke="#cba636" stroke-width="2.2" stroke-dasharray="7.5 7.5"/><circle cx="632" cy="1213.8" r="9" fill="#37656c"/><circle cx="882.9" cy="1213.8" r="9" fill="#bd6b33"/><circle cx="1198" cy="1213.8" r="9" fill="#cba636"/></svg>
<div class="t mt" style="left:653.7px;top:1203.22px;font-size:21px;color:#37656c;font-weight:400;letter-spacing:0.753px;">New Opportunities</div>
<div class="t mo" style="left:904.5px;top:1203.22px;font-size:21px;color:#bd6b33;font-weight:400;letter-spacing:0.764px;">Completed Opportunities</div>
<div class="t mg" style="left:1219.6px;top:1203.22px;font-size:21px;color:#c9a535;font-weight:400;letter-spacing:0.689px;">Net Change</div>
<div class="card" style="left:1606.5px;top:540px;width:1202px;height:780.5px;"></div>
<div class="t " style="left:1642.7px;top:578.98px;font-size:24px;color:#111827;font-weight:700;letter-spacing:-0.674px;">Expiring Opportunities</div>
<div class="t mt" style="left:2628.7px;top:580.22px;font-size:21px;color:#37656c;font-weight:400;letter-spacing:0.465px;">View All</div>
<div style="position:absolute;left:1642.8px;top:641.6px;width:1129px;height:84.4px;background:#f8f9fb;border-bottom:1.5px solid #e5e7eb"></div>
<div class="t " style="left:1667.1px;top:674.96px;font-size:18px;color:#111827;font-weight:700;letter-spacing:0.028px;">PATIENT</div>
<div class="t " style="left:1931px;top:674.96px;font-size:18px;color:#111827;font-weight:700;letter-spacing:-0.751px;">PROGRAM</div>
<div class="t " style="left:2151.4px;top:674.96px;font-size:18px;color:#111827;font-weight:700;letter-spacing:0.016px;">STATUS</div>
<div class="t " style="left:2301.2px;top:662.66px;font-size:18px;color:#111827;font-weight:700;letter-spacing:0.127px;">DAYS UNTIL</div>
<div class="t " style="left:2301.2px;top:687.06px;font-size:18px;color:#111827;font-weight:700;letter-spacing:0.036px;">EXPIRATION</div>
<div class="t " style="left:2478.6px;top:662.66px;font-size:18px;color:#111827;font-weight:700;letter-spacing:-0.042px;">EXPIRATION</div>
<div class="t " style="left:2478.6px;top:687.06px;font-size:18px;color:#111827;font-weight:700;letter-spacing:-0.452px;">DATE</div>
<div class="t " style="left:2643.8px;top:662.66px;font-size:18px;color:#111827;font-weight:700;letter-spacing:-0.360px;">ASSIGNED</div>
<div class="t " style="left:2643.8px;top:687.06px;font-size:18px;color:#111827;font-weight:700;letter-spacing:-0.570px;">TO</div>
<div style="position:absolute;left:1642.8px;top:834.75px;width:1129px;height:1.5px;background:#e8eaee"></div>
<div class="t " style="left:1667.1px;top:741.56px;font-size:18px;color:#37656c;font-weight:700;letter-spacing:-0.005px;text-decoration:underline;text-underline-offset:2.5px;text-decoration-thickness:1.5px;">Stark, Erika</div>
<div class="t " style="left:1696.8px;top:771.46px;font-size:18px;color:#6b7280;font-weight:400;letter-spacing:0.089px;">16621958</div>
<div class="t " style="left:1696.8px;top:801.46px;font-size:18px;color:#6b7280;font-weight:400;letter-spacing:0.336px;">03/10/1967</div>
<div class="t tb" style="left:1931px;top:741.66px;font-size:18px;color:#262f3c;font-weight:400;letter-spacing:0.249px;">EUSA Patient</div>
<div class="t tb" style="left:1931px;top:765.66px;font-size:18px;color:#262f3c;font-weight:400;letter-spacing:0.544px;">Connect Patient</div>
<div class="t tb" style="left:1931px;top:789.66px;font-size:18px;color:#262f3c;font-weight:400;letter-spacing:0.555px;">Assistance Program</div>
<div style="position:absolute;left:2151px;top:739.1px;width:101.8px;height:35.8px;border-radius:8px;background:#e2f7e6"></div>
<div class="t ap" style="left:2160.8px;top:747.46px;font-size:18px;color:#2e6a36;font-weight:400;letter-spacing:0.922px;">Approved</div>
<div class="t tb" style="left:2301.2px;top:741.76px;font-size:18px;color:#262f3c;font-weight:400;letter-spacing:0.033px;">1 days</div>
<div class="t tb" style="left:2478.6px;top:741.76px;font-size:18px;color:#262f3c;font-weight:400;letter-spacing:0.742px;">2/18/2026</div>
<div class="t tb" style="left:2643.8px;top:741.76px;font-size:18px;color:#262f3c;font-weight:400;letter-spacing:0.594px;">Antonio</div>
<div class="t tb" style="left:2643.8px;top:765.76px;font-size:18px;color:#262f3c;font-weight:400;letter-spacing:0.889px;">Lobo</div>
<div style="position:absolute;left:1642.8px;top:955.65px;width:1129px;height:1.5px;background:#e8eaee"></div>
<div class="t " style="left:1667.1px;top:851.06px;font-size:18px;color:#37656c;font-weight:700;letter-spacing:0.117px;text-decoration:underline;text-underline-offset:2.5px;text-decoration-thickness:1.5px;">Barton, Paul</div>
<div class="t " style="left:1696.8px;top:880.96px;font-size:18px;color:#6b7280;font-weight:400;letter-spacing:0.861px;">07675439, 07900044</div>
<div class="t " style="left:1696.8px;top:910.96px;font-size:18px;color:#6b7280;font-weight:400;letter-spacing:0.425px;">04/21/1989</div>
<div class="t tb" style="left:1931px;top:851.16px;font-size:18px;color:#262f3c;font-weight:400;letter-spacing:0.594px;">Genentech Access</div>
<div class="t tb" style="left:1931px;top:875.16px;font-size:18px;color:#262f3c;font-weight:400;letter-spacing:0.465px;">to Care Foundation</div>
<div class="t tb" style="left:1931px;top:899.16px;font-size:18px;color:#262f3c;font-weight:400;letter-spacing:0.324px;">(GATCF) for</div>
<div class="t tb" style="left:1931px;top:923.16px;font-size:18px;color:#262f3c;font-weight:400;letter-spacing:0.201px;">FUZEON</div>
<div style="position:absolute;left:2151px;top:848.6px;width:101.8px;height:35.8px;border-radius:8px;background:#e2f7e6"></div>
<div class="t ap" style="left:2160.8px;top:856.96px;font-size:18px;color:#2e6a36;font-weight:400;letter-spacing:0.922px;">Approved</div>
<div class="t tb" style="left:2301.2px;top:851.26px;font-size:18px;color:#262f3c;font-weight:400;letter-spacing:0.533px;">3 days</div>
<div class="t tb" style="left:2478.6px;top:851.26px;font-size:18px;color:#262f3c;font-weight:400;letter-spacing:1.242px;">2/20/2026</div>
<div class="t tb" style="left:2643.8px;top:851.26px;font-size:18px;color:#262f3c;font-weight:400;letter-spacing:0.815px;">Kaelyn</div>
<div class="t tb" style="left:2643.8px;top:875.26px;font-size:18px;color:#262f3c;font-weight:400;letter-spacing:1.048px;">Hinch</div>
<div style="position:absolute;left:1642.8px;top:1064.55px;width:1129px;height:1.5px;background:#e8eaee"></div>
<div class="t " style="left:1667.1px;top:971.96px;font-size:18px;color:#37656c;font-weight:700;letter-spacing:0.303px;text-decoration:underline;text-underline-offset:2.5px;text-decoration-thickness:1.5px;">Dunn, Tammy</div>
<div class="t " style="left:1696.8px;top:1001.86px;font-size:18px;color:#6b7280;font-weight:400;letter-spacing:1.046px;">38554982</div>
<div class="t " style="left:1696.8px;top:1031.86px;font-size:18px;color:#6b7280;font-weight:400;letter-spacing:1.258px;">02/05/2004</div>
<div class="t tb" style="left:1931px;top:972.06px;font-size:18px;color:#262f3c;font-weight:400;letter-spacing:0.761px;">Tolmar Total</div>
<div class="t tb" style="left:1931px;top:996.06px;font-size:18px;color:#262f3c;font-weight:400;letter-spacing:0.438px;">Solutions Patient</div>
<div class="t tb" style="left:1931px;top:1020.06px;font-size:18px;color:#262f3c;font-weight:400;letter-spacing:0.555px;">Assistance Program</div>
<div style="position:absolute;left:2151px;top:969.5px;width:101.8px;height:35.8px;border-radius:8px;background:#e2f7e6"></div>
<div class="t ap" style="left:2160.8px;top:977.86px;font-size:18px;color:#2e6a36;font-weight:400;letter-spacing:0.922px;">Approved</div>
<div class="t tb" style="left:2301.2px;top:972.16px;font-size:18px;color:#262f3c;font-weight:400;letter-spacing:0.533px;">6 days</div>
<div class="t tb" style="left:2478.6px;top:972.16px;font-size:18px;color:#262f3c;font-weight:400;letter-spacing:1.242px;">2/23/2026</div>
<div class="t tb" style="left:2643.8px;top:972.16px;font-size:18px;color:#262f3c;font-weight:400;letter-spacing:0.736px;">Iris Oppong</div>
<div style="position:absolute;left:1642.8px;top:1173.95px;width:1129px;height:1.5px;background:#e8eaee"></div>
<div class="t " style="left:1667.1px;top:1080.86px;font-size:18px;color:#37656c;font-weight:700;letter-spacing:0.063px;text-decoration:underline;text-underline-offset:2.5px;text-decoration-thickness:1.5px;">Garcia, Ethan</div>
<div class="t " style="left:1696.8px;top:1110.76px;font-size:18px;color:#6b7280;font-weight:400;letter-spacing:1.189px;">89928046</div>
<div class="t " style="left:1696.8px;top:1140.76px;font-size:18px;color:#6b7280;font-weight:400;letter-spacing:0.814px;">01/02/2005</div>
<div class="t tb" style="left:1931px;top:1080.96px;font-size:18px;color:#262f3c;font-weight:400;letter-spacing:0.249px;">EUSA Patient</div>
<div class="t tb" style="left:1931px;top:1104.96px;font-size:18px;color:#262f3c;font-weight:400;letter-spacing:0.544px;">Connect Patient</div>
<div class="t tb" style="left:1931px;top:1128.96px;font-size:18px;color:#262f3c;font-weight:400;letter-spacing:0.555px;">Assistance Program</div>
<div style="position:absolute;left:2151px;top:1078.4px;width:101.8px;height:35.8px;border-radius:8px;background:#e2f7e6"></div>
<div class="t ap" style="left:2160.8px;top:1086.76px;font-size:18px;color:#2e6a36;font-weight:400;letter-spacing:0.922px;">Approved</div>
<div class="t tb" style="left:2301.2px;top:1081.06px;font-size:18px;color:#262f3c;font-weight:400;letter-spacing:0.533px;">6 days</div>
<div class="t tb" style="left:2478.6px;top:1081.06px;font-size:18px;color:#262f3c;font-weight:400;letter-spacing:1.242px;">2/23/2026</div>
<div class="t tb" style="left:2643.8px;top:1081.06px;font-size:18px;color:#262f3c;font-weight:400;letter-spacing:0.815px;">Kaelyn</div>
<div class="t tb" style="left:2643.8px;top:1105.06px;font-size:18px;color:#262f3c;font-weight:400;letter-spacing:1.048px;">Hinch</div>
<div style="position:absolute;left:1642.8px;top:1282.75px;width:1129px;height:1.5px;background:#e8eaee"></div>
<div class="t " style="left:1667.1px;top:1190.26px;font-size:18px;color:#37656c;font-weight:700;letter-spacing:0.335px;text-decoration:underline;text-underline-offset:2.5px;text-decoration-thickness:1.5px;">Kennedy, Leon</div>
<div class="t " style="left:1696.8px;top:1220.16px;font-size:18px;color:#6b7280;font-weight:400;letter-spacing:1.109px;">558943</div>
<div class="t " style="left:1696.8px;top:1250.16px;font-size:18px;color:#6b7280;font-weight:400;letter-spacing:0.591px;">03/22/1973</div>
<div class="t tb" style="left:1931px;top:1190.36px;font-size:18px;color:#262f3c;font-weight:400;letter-spacing:0.274px;">STELARA withMe</div>
<div class="t tb" style="left:1931px;top:1214.36px;font-size:18px;color:#262f3c;font-weight:400;letter-spacing:0.573px;">for Psoriatic</div>
<div class="t tb" style="left:1931px;top:1238.36px;font-size:18px;color:#262f3c;font-weight:400;letter-spacing:0.699px;">Arthritis</div>
<div style="position:absolute;left:2151px;top:1187.8px;width:101.8px;height:35.8px;border-radius:8px;background:#e2f7e6"></div>
<div class="t ap" style="left:2160.8px;top:1196.16px;font-size:18px;color:#2e6a36;font-weight:400;letter-spacing:0.922px;">Approved</div>
<div class="t tb" style="left:2301.2px;top:1190.46px;font-size:18px;color:#262f3c;font-weight:400;letter-spacing:0.533px;">9 days</div>
<div class="t tb" style="left:2478.6px;top:1190.46px;font-size:18px;color:#262f3c;font-weight:400;letter-spacing:1.242px;">2/26/2026</div>
<div class="t tb" style="left:2643.8px;top:1190.46px;font-size:18px;color:#262f3c;font-weight:400;letter-spacing:0.816px;">Unassigned</div>
<div class="card" style="left:377.9px;top:1346px;width:1203.6px;height:200px;"></div>
<div class="card" style="left:1606.5px;top:1346px;width:1202px;height:200px;"></div>
<div class="t " style="left:416.3px;top:1384.58px;font-size:24px;color:#111827;font-weight:700;letter-spacing:-0.593px;">Idle Opportunities</div>
<div class="t mt" style="left:1401px;top:1386.22px;font-size:21px;color:#37656c;font-weight:400;letter-spacing:0.522px;">View All</div>
<div class="t " style="left:1643.7px;top:1384.58px;font-size:24px;color:#111827;font-weight:700;letter-spacing:-0.444px;">Team Performance</div>
<svg style="position:absolute;left:0;top:0;width:2880px;height:1418px;pointer-events:none"><circle cx="1915" cy="591" r="11.3" fill="none" stroke="#9ca3af" stroke-width="2"/><path d="M1911.9 586.6 C1912.6 584.4 1914.4 583.8 1915.4 583.8 C1917.6 583.8 1918.9 585.3 1918.9 587 C1918.9 589.5 1915.2 590.8 1915 593.1" fill="none" stroke="#9ca3af" stroke-width="2" stroke-linecap="round"/><circle cx="1915" cy="596.8" r="1.55" fill="#9ca3af"/><path d="M2716.5 591.4 H2730.0 M2724.0 585.4 L2730.2 591.4 L2724.0 597.4" stroke="#37656c" stroke-width="1.9" fill="none" stroke-linecap="round" stroke-linejoin="round"/><circle cx="2755.1" cy="584.7" r="2.1" fill="#9ca3af"/><circle cx="2761.7" cy="584.7" r="2.1" fill="#9ca3af"/><circle cx="2755.1" cy="591.5" r="2.1" fill="#9ca3af"/><circle cx="2761.7" cy="591.5" r="2.1" fill="#9ca3af"/><circle cx="2755.1" cy="598.3" r="2.1" fill="#9ca3af"/><circle cx="2761.7" cy="598.3" r="2.1" fill="#9ca3af"/><path d="M1672.8 778.3 H1687.3 M1671.6 784.3 H1686.1 M1678.8 774.0999999999999 L1675.8 788.8 M1683.8 774.0999999999999 L1680.8 788.8" stroke="#6b7280" stroke-width="2" fill="none" stroke-linecap="round"/><rect x="1671" y="804.4" width="16" height="15.5" rx="1.6" fill="none" stroke="#6b7280" stroke-width="2"/><path d="M1671 808.9 H1687 M1675 801.9 V805.4 M1683 801.9 V805.4" stroke="#6b7280" stroke-width="2" fill="none" stroke-linecap="round"/><rect x="1674.2" y="811.7" width="1.9" height="1.9" fill="#6b7280"/><rect x="1678.2" y="811.7" width="1.9" height="1.9" fill="#6b7280"/><rect x="1682.2" y="811.7" width="1.9" height="1.9" fill="#6b7280"/><rect x="1674.2" y="815.7" width="1.9" height="1.9" fill="#6b7280"/><rect x="1678.2" y="815.7" width="1.9" height="1.9" fill="#6b7280"/><rect x="1682.2" y="815.7" width="1.9" height="1.9" fill="#6b7280"/><path d="M1672.8 887.8 H1687.3 M1671.6 893.8 H1686.1 M1678.8 883.5999999999999 L1675.8 898.3 M1683.8 883.5999999999999 L1680.8 898.3" stroke="#6b7280" stroke-width="2" fill="none" stroke-linecap="round"/><rect x="1671" y="913.9" width="16" height="15.5" rx="1.6" fill="none" stroke="#6b7280" stroke-width="2"/><path d="M1671 918.4 H1687 M1675 911.4 V914.9 M1683 911.4 V914.9" stroke="#6b7280" stroke-width="2" fill="none" stroke-linecap="round"/><rect x="1674.2" y="921.2" width="1.9" height="1.9" fill="#6b7280"/><rect x="1678.2" y="921.2" width="1.9" height="1.9" fill="#6b7280"/><rect x="1682.2" y="921.2" width="1.9" height="1.9" fill="#6b7280"/><rect x="1674.2" y="925.2" width="1.9" height="1.9" fill="#6b7280"/><rect x="1678.2" y="925.2" width="1.9" height="1.9" fill="#6b7280"/><rect x="1682.2" y="925.2" width="1.9" height="1.9" fill="#6b7280"/><path d="M1672.8 1008.6999999999999 H1687.3 M1671.6 1014.6999999999999 H1686.1 M1678.8 1004.4999999999999 L1675.8 1019.1999999999999 M1683.8 1004.4999999999999 L1680.8 1019.1999999999999" stroke="#6b7280" stroke-width="2" fill="none" stroke-linecap="round"/><rect x="1671" y="1034.8" width="16" height="15.5" rx="1.6" fill="none" stroke="#6b7280" stroke-width="2"/><path d="M1671 1039.3 H1687 M1675 1032.3 V1035.8 M1683 1032.3 V1035.8" stroke="#6b7280" stroke-width="2" fill="none" stroke-linecap="round"/><rect x="1674.2" y="1042.1" width="1.9" height="1.9" fill="#6b7280"/><rect x="1678.2" y="1042.1" width="1.9" height="1.9" fill="#6b7280"/><rect x="1682.2" y="1042.1" width="1.9" height="1.9" fill="#6b7280"/><rect x="1674.2" y="1046.1" width="1.9" height="1.9" fill="#6b7280"/><rect x="1678.2" y="1046.1" width="1.9" height="1.9" fill="#6b7280"/><rect x="1682.2" y="1046.1" width="1.9" height="1.9" fill="#6b7280"/><path d="M1672.8 1117.6 H1687.3 M1671.6 1123.6 H1686.1 M1678.8 1113.3999999999999 L1675.8 1128.1 M1683.8 1113.3999999999999 L1680.8 1128.1" stroke="#6b7280" stroke-width="2" fill="none" stroke-linecap="round"/><rect x="1671" y="1143.7" width="16" height="15.5" rx="1.6" fill="none" stroke="#6b7280" stroke-width="2"/><path d="M1671 1148.2 H1687 M1675 1141.2 V1144.7 M1683 1141.2 V1144.7" stroke="#6b7280" stroke-width="2" fill="none" stroke-linecap="round"/><rect x="1674.2" y="1151.0" width="1.9" height="1.9" fill="#6b7280"/><rect x="1678.2" y="1151.0" width="1.9" height="1.9" fill="#6b7280"/><rect x="1682.2" y="1151.0" width="1.9" height="1.9" fill="#6b7280"/><rect x="1674.2" y="1155.0" width="1.9" height="1.9" fill="#6b7280"/><rect x="1678.2" y="1155.0" width="1.9" height="1.9" fill="#6b7280"/><rect x="1682.2" y="1155.0" width="1.9" height="1.9" fill="#6b7280"/><path d="M1672.8 1227.0 H1687.3 M1671.6 1233.0 H1686.1 M1678.8 1222.8 L1675.8 1237.5 M1683.8 1222.8 L1680.8 1237.5" stroke="#6b7280" stroke-width="2" fill="none" stroke-linecap="round"/><rect x="1671" y="1253.1000000000001" width="16" height="15.5" rx="1.6" fill="none" stroke="#6b7280" stroke-width="2"/><path d="M1671 1257.6000000000001 H1687 M1675 1250.6000000000001 V1254.1000000000001 M1683 1250.6000000000001 V1254.1000000000001" stroke="#6b7280" stroke-width="2" fill="none" stroke-linecap="round"/><rect x="1674.2" y="1260.4" width="1.9" height="1.9" fill="#6b7280"/><rect x="1678.2" y="1260.4" width="1.9" height="1.9" fill="#6b7280"/><rect x="1682.2" y="1260.4" width="1.9" height="1.9" fill="#6b7280"/><rect x="1674.2" y="1264.4" width="1.9" height="1.9" fill="#6b7280"/><rect x="1678.2" y="1264.4" width="1.9" height="1.9" fill="#6b7280"/><rect x="1682.2" y="1264.4" width="1.9" height="1.9" fill="#6b7280"/><circle cx="636.9" cy="1396.8" r="11.3" fill="none" stroke="#9ca3af" stroke-width="2"/><path d="M633.8 1392.3999999999999 C634.5 1390.2 636.3 1389.6 637.3 1389.6 C639.5 1389.6 640.8 1391.1 640.8 1392.8 C640.8 1395.3 637.1 1396.6 636.9 1398.8999999999999" fill="none" stroke="#9ca3af" stroke-width="2" stroke-linecap="round"/><circle cx="636.9" cy="1402.6" r="1.55" fill="#9ca3af"/><path d="M1488.8999999999999 1397 H1502.3999999999999 M1496.3999999999999 1391 L1502.6 1397 L1496.3999999999999 1403" stroke="#37656c" stroke-width="1.9" fill="none" stroke-linecap="round" stroke-linejoin="round"/><circle cx="1528.2" cy="1390.5" r="2.1" fill="#9ca3af"/><circle cx="1534.8" cy="1390.5" r="2.1" fill="#9ca3af"/><circle cx="1528.2" cy="1397.3" r="2.1" fill="#9ca3af"/><circle cx="1534.8" cy="1397.3" r="2.1" fill="#9ca3af"/><circle cx="1528.2" cy="1404.1" r="2.1" fill="#9ca3af"/><circle cx="1534.8" cy="1404.1" r="2.1" fill="#9ca3af"/><circle cx="1879.3" cy="1397" r="11.3" fill="none" stroke="#9ca3af" stroke-width="2"/><path d="M1876.2 1392.6 C1876.8999999999999 1390.4 1878.7 1389.8 1879.7 1389.8 C1881.8999999999999 1389.8 1883.2 1391.3 1883.2 1393 C1883.2 1395.5 1879.5 1396.8 1879.3 1399.1" fill="none" stroke="#9ca3af" stroke-width="2" stroke-linecap="round"/><circle cx="1879.3" cy="1402.8" r="1.55" fill="#9ca3af"/><circle cx="2754.0" cy="1390.5" r="2.1" fill="#9ca3af"/><circle cx="2760.6" cy="1390.5" r="2.1" fill="#9ca3af"/><circle cx="2754.0" cy="1397.3" r="2.1" fill="#9ca3af"/><circle cx="2760.6" cy="1397.3" r="2.1" fill="#9ca3af"/><circle cx="2754.0" cy="1404.1" r="2.1" fill="#9ca3af"/><circle cx="2760.6" cy="1404.1" r="2.1" fill="#9ca3af"/></svg>
</body></html>
